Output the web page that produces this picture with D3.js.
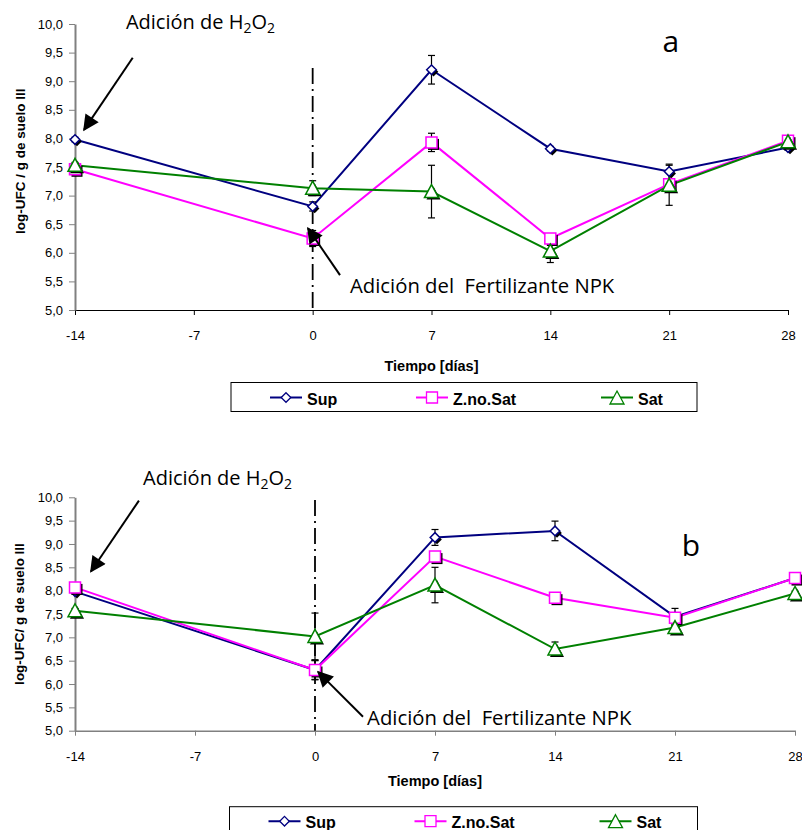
<!DOCTYPE html>
<html>
<head>
<meta charset="utf-8">
<script src="https://cdn.jsdelivr.net/npm/d3@7"></script>
<style>
  body { margin: 0; background: #fff; }
  svg { display: block; }
  text { font-family: "Liberation Sans", Arial, sans-serif; fill: #000; }
  .note { font-family: "Open Sans", "Noto Sans", sans-serif; white-space: pre; }
</style>
</head>
<body>
<script>
// Sampling days and axis ticks
const days = [-14, 0, 7, 14, 21, 28];
const xTicks = [-14, -7, 0, 7, 14, 21, 28];
const yTicks = [5, 5.5, 6, 6.5, 7, 7.5, 8, 8.5, 9, 9.5, 10];
const seriesNames = ["Sup", "Z.no.Sat", "Sat"];

// Panel a: log-UFC per gram of soil III
const supA = [7.98, 6.81, 9.20, 7.82, 7.42, 7.84];
const zA   = [7.46, 6.25, 7.93, 6.25, 7.20, 7.96];
const satA = [7.53, 7.13, 7.07, 6.03, 7.18, 7.94];
const supAErr = [0.04, 0.08, 0.25, 0.04, 0.13, 0.05];
const zAErr   = [0.05, 0.14, 0.16, 0.05, 0.05, 0.05];
const satAErr = [0.05, 0.13, 0.46, 0.20, 0.35, 0.05];

// Panel b
const supB = [7.98, 6.30, 9.14, 9.28, 7.44, 8.27];
const zB   = [8.07, 6.30, 8.73, 7.85, 7.42, 8.27];
const satB = [7.57, 7.02, 8.12, 6.75, 7.21, 7.94];
const supBErr = [0.05, 0.21, 0.17, 0.21, 0.18, 0.05];
const zBErr   = [0.05, 0.20, 0.08, 0.05, 0.05, 0.05];
const satBErr = [0.05, 0.50, 0.38, 0.15, 0.05, 0.05];

const colors = ["#000080", "#FF00FF", "#008000"];

const W = 802, H = 830;
const svg = d3.select("body").append("svg")
  .attr("width", W).attr("height", H)
  .attr("viewBox", `0 0 ${W} ${H}`);

svg.append("defs").append("marker")
  .attr("id", "arrowhead")
  .attr("viewBox", "0 0 10 10")
  .attr("refX", 9).attr("refY", 5)
  .attr("markerWidth", 9).attr("markerHeight", 8)
  .attr("markerUnits", "strokeWidth")
  .attr("orient", "auto")
  .append("path").attr("d", "M0,0 L10,5 L0,10 Z").attr("fill", "#000");

// Marker shapes: diamond, square, triangle
const shapes = [
  "M0,-4.8 L4.8,0 L0,4.8 L-4.8,0 Z",
  "M-5.5,-5.5 L5.5,-5.5 L5.5,5.5 L-5.5,5.5 Z",
  "M0,-7 L7,6 L-7,6 Z"
];

const fmtY = d => d3.format(".1f")(d).replace(".", ",");

function drawPanel(p) {
  const g = svg.append("g");
  const x = d3.scaleLinear().domain([-14, 28]).range([p.left, p.right]);
  const y = d3.scaleLinear().domain([5, 10]).range([p.bottom, p.top]);

  // x axis
  const xa = g.append("g").attr("transform", `translate(0,${p.bottom})`)
    .call(d3.axisBottom(x).tickValues(xTicks).tickSize(5).tickSizeOuter(0)
      .tickFormat(d => String(d)));
  xa.select(".domain").attr("stroke", p.xAxisColor).attr("stroke-width", p.xAxisWidth);
  xa.selectAll(".tick line").attr("stroke", p.xAxisColor);
  xa.selectAll(".tick text").attr("y", 30).attr("dy", 0)
    .style("font-size", "13px").style("font-family", "'Liberation Sans', Arial, sans-serif");

  // y axis
  const ya = g.append("g").attr("transform", `translate(${p.left},0)`)
    .call(d3.axisLeft(y).tickValues(yTicks).tickSize(6).tickPadding(6).tickSizeOuter(0)
      .tickFormat(fmtY));
  ya.select(".domain").attr("stroke", "#808080").attr("stroke-width", 2);
  ya.selectAll(".tick line").attr("stroke", "#808080");
  ya.selectAll(".tick text")
    .style("font-size", "13px").style("font-family", "'Liberation Sans', Arial, sans-serif");

  // axis titles
  g.append("text")
    .attr("transform", `translate(${p.yTitleX},${(y(p.yTitleMid))}) rotate(-90)`)
    .attr("text-anchor", "middle")
    .style("font-size", "13.5px").style("font-weight", "bold")
    .text(p.yTitle);
  g.append("text")
    .attr("x", x(p.xTitleDay)).attr("y", p.bottom + p.xTitleOffset)
    .attr("text-anchor", "middle")
    .style("font-size", "14.5px").style("font-weight", "bold")
    .text("Tiempo [días]");

  // fertiliser addition at day 0
  g.append("line")
    .attr("x1", x(0)).attr("x2", x(0))
    .attr("y1", y(p.dashTop)).attr("y2", p.bottom)
    .attr("stroke", "#000").attr("stroke-width", 1.8)
    .attr("stroke-dasharray", "16,5,2,5");

  const line = d3.line().x((d, i) => x(days[i])).y(d => y(d));

  p.series.forEach((s, k) => {
    g.append("path").datum(s.values)
      .attr("d", line).attr("fill", "none")
      .attr("stroke", colors[k]).attr("stroke-width", 2);
  });

  // error bars
  p.series.forEach((s) => {
    const eg = g.append("g").attr("stroke", "#000").attr("stroke-width", 1.2);
    s.values.forEach((v, i) => {
      const e = s.err[i];
      const cx = x(days[i]);
      eg.append("line").attr("x1", cx).attr("x2", cx).attr("y1", y(v - e)).attr("y2", y(v + e));
      eg.append("line").attr("x1", cx - 3.5).attr("x2", cx + 3.5).attr("y1", y(v - e)).attr("y2", y(v - e));
      eg.append("line").attr("x1", cx - 3.5).attr("x2", cx + 3.5).attr("y1", y(v + e)).attr("y2", y(v + e));
    });
  });

  // markers with drop shadow
  p.series.forEach((s, k) => {
    s.values.forEach((v, i) => {
      const cx = x(days[i]), cy = y(v);
      g.append("path").attr("d", shapes[k])
        .attr("transform", `translate(${cx + 2},${cy + 2})`).attr("fill", "#000");
      g.append("path").attr("d", shapes[k])
        .attr("transform", `translate(${cx},${cy})`)
        .attr("fill", "#fff").attr("stroke", colors[k]).attr("stroke-width", 1.5);
    });
  });

  // notes and arrows
  const h2o2 = g.append("text").attr("class", "note")
    .attr("x", x(p.h2o2Text[0])).attr("y", y(p.h2o2Text[1]))
    .style("font-size", "20px");
  h2o2.append("tspan").text("Adición de H");
  h2o2.append("tspan").attr("dy", 4).style("font-size", "14px").text("2");
  h2o2.append("tspan").attr("dy", -4).text("O");
  h2o2.append("tspan").attr("dy", 4).style("font-size", "14px").text("2");

  g.append("text").attr("class", "note")
    .attr("x", x(p.npkText[0])).attr("y", y(p.npkText[1]))
    .style("font-size", "20.3px")
    .text("Adición del  Fertilizante NPK");

  g.append("text").attr("class", "note")
    .attr("x", x(p.label[0])).attr("y", y(p.label[1]))
    .style("font-size", "30px")
    .text(p.labelText);

  p.arrows.forEach(a => {
    g.append("line")
      .attr("x1", x(a[0])).attr("y1", y(a[1]))
      .attr("x2", x(a[2])).attr("y2", y(a[3]))
      .attr("stroke", "#000").attr("stroke-width", 2)
      .attr("marker-end", "url(#arrowhead)");
  });

  // legend
  const lg = g.append("g").attr("transform", `translate(${p.legend.x},${p.legend.y})`);
  lg.append("rect").attr("x", 0).attr("y", 0)
    .attr("width", p.legend.w).attr("height", p.legend.h)
    .attr("fill", "#fff").attr("stroke", "#000").attr("stroke-width", 1);
  const itemX = [39, 185, 370];
  seriesNames.forEach((name, k) => {
    const ix = itemX[k];
    const my = p.legend.rowY;
    lg.append("line").attr("x1", ix).attr("x2", ix + 32).attr("y1", my).attr("y2", my)
      .attr("stroke", colors[k]).attr("stroke-width", 2);
    lg.append("path").attr("d", shapes[k])
      .attr("transform", `translate(${ix + 16},${my + (k === 2 ? 0.5 : 0)})`)
      .attr("fill", "#fff").attr("stroke", colors[k]).attr("stroke-width", 1.3);
    lg.append("text").attr("x", ix + 37).attr("y", my + 7)
      .style("font-size", "16px").style("font-weight", "bold")
      .text(name);
  });
}

drawPanel({
  left: 75, right: 788, top: 24, bottom: 310,
  xAxisColor: "#000", xAxisWidth: 1.2,
  yTitle: "log-UFC / g de suelo III", yTitleX: 25, yTitleMid: 7.6,
  xTitleDay: 7, xTitleOffset: 61,
  dashTop: 9.23,
  series: [
    { values: supA, err: supAErr },
    { values: zA, err: zAErr },
    { values: satA, err: satAErr }
  ],
  h2o2Text: [-11.0, 9.91],
  npkText: [2.2, 5.30],
  label: [20.6, 9.51], labelText: "a",
  arrows: [[-10.6, 9.41, -13.47, 8.15], [1.61, 5.61, -0.28, 6.43]],
  legend: { x: 231, y: 382.5, w: 466, h: 29, rowY: 15 }
});

drawPanel({
  left: 75, right: 795, top: 497.3, bottom: 730.7,
  xAxisColor: "#808080", xAxisWidth: 1.5,
  yTitle: "log-UFC/ g de suelo III", yTitleX: 24, yTitleMid: 7.5,
  xTitleDay: 7, xTitleOffset: 55,
  dashTop: 9.94,
  series: [
    { values: supB, err: supBErr },
    { values: zB, err: zBErr },
    { values: satB, err: satBErr }
  ],
  h2o2Text: [-10.03, 10.26],
  npkText: [3.04, 5.12],
  label: [21.4, 8.74], labelText: "b",
  arrows: [[-10.27, 9.93, -13.07, 8.41], [2.8, 5.30, 0.18, 6.26]],
  legend: { x: 229.5, y: 806.7, w: 468, h: 40, rowY: 14.5 }
});
</script>
</body>
</html>
